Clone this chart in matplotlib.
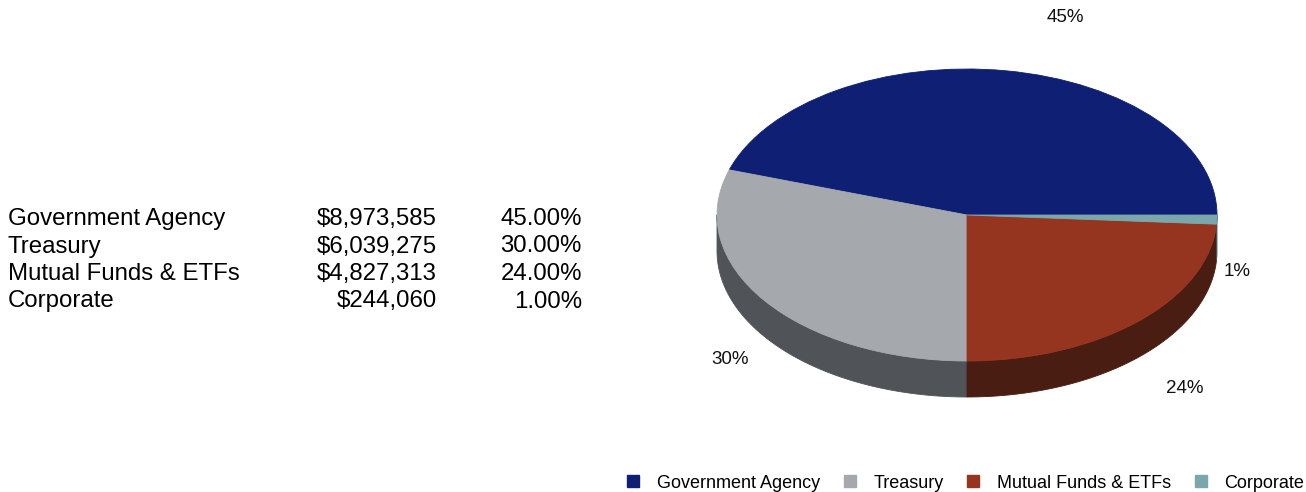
import matplotlib
matplotlib.use("Agg")
import matplotlib.pyplot as plt
import numpy as np
from matplotlib.patches import Polygon
from matplotlib.lines import Line2D

# ---- data ----
categories = ["Government Agency", "Treasury", "Mutual Funds & ETFs", "Corporate"]
amounts = [8973585, 6039275, 4827313, 244060]
shares = [45.0, 30.0, 24.0, 1.0]

# ---- style ----
top_colors = ["#0e1f74", "#a5a9ad", "#953520", "#7aa7ac"]
side_colors = ["#08124a", "#505358", "#4a1d12", "#3f5a5d"]
FONT = "Liberation Sans"

W, H = 1306, 492
fig = plt.figure(figsize=(W / 100, H / 100), dpi=100)

# pie geometry in pixels (center, radii, thickness)
cx, cy = 967, H - 215
rx, ry = 250, 146
depth = 36 / ry
xl, xr = -1.3, 1.3
yb, yt = -1.85, 1.45
ax = fig.add_axes([(cx + xl * rx) / W, (cy + yb * ry) / H,
                   (xr - xl) * rx / W, (yt - yb) * ry / H])

# side walls of the front half (angles 180..360)
edges = np.concatenate([[0], np.cumsum(shares)]) / sum(shares) * 360
for i in range(len(shares)):
    lo, hi = max(edges[i], 180), min(edges[i + 1], 360)
    if lo >= hi:
        continue
    t = np.radians(np.linspace(lo, hi, 200))
    top = np.column_stack([np.cos(t), np.sin(t)])
    bot = np.column_stack([np.cos(t), np.sin(t) - depth])[::-1]
    ax.add_patch(Polygon(np.vstack([top, bot]), closed=True,
                         facecolor=side_colors[i], edgecolor=side_colors[i],
                         linewidth=0.6, zorder=1))

wedges, _ = ax.pie(shares, colors=top_colors, startangle=0, counterclock=True,
                   radius=1, wedgeprops=dict(linewidth=0))
for w in wedges:
    w.set_edgecolor(w.get_facecolor())
    w.set_linewidth(0.6)
    w.set_zorder(2)

ax.set_aspect("auto")
ax.set_xlim(xl, xr)
ax.set_ylim(yb, yt)
ax.axis("off")

# percentage labels (positions in pie-radius units)
label_pos = [(0.392, 1.35), (-0.948, -0.993), (0.872, -1.19), (1.08, -0.384)]
for s, (lx, ly) in zip(shares, label_pos):
    ax.text(lx, ly, f"{s:.0f}%", ha="center", va="center",
            fontsize=13.5, family=FONT, color="#111111", zorder=5)

# summary table on the left
row_baselines = [225, 252.5, 280, 307.5]
for name, amt, s, yb_px in zip(categories, amounts, shares, row_baselines):
    y = 1 - yb_px / H
    fig.text(8 / W, y, name, ha="left", va="baseline", fontsize=17.3, family=FONT)
    fig.text(437 / W, y, f"${amt:,}", ha="right", va="baseline", fontsize=17.3, family=FONT)
    fig.text(582 / W, y, f"{s:.2f}%", ha="right", va="baseline", fontsize=17.3, family=FONT)

# legend along the bottom right
handles = [Line2D([], [], marker="s", linestyle="none", markersize=8,
                  markerfacecolor=c, markeredgecolor=c) for c in top_colors]
fig.legend(handles, categories, loc="lower right", bbox_to_anchor=(1304 / W, 0.5 / H),
           ncol=4, frameon=False, prop=dict(family=FONT, size=13),
           handlelength=0.6, handletextpad=1.0, columnspacing=1.35,
           borderpad=0, borderaxespad=0)

fig.savefig("out.png", dpi=100, facecolor="white")
